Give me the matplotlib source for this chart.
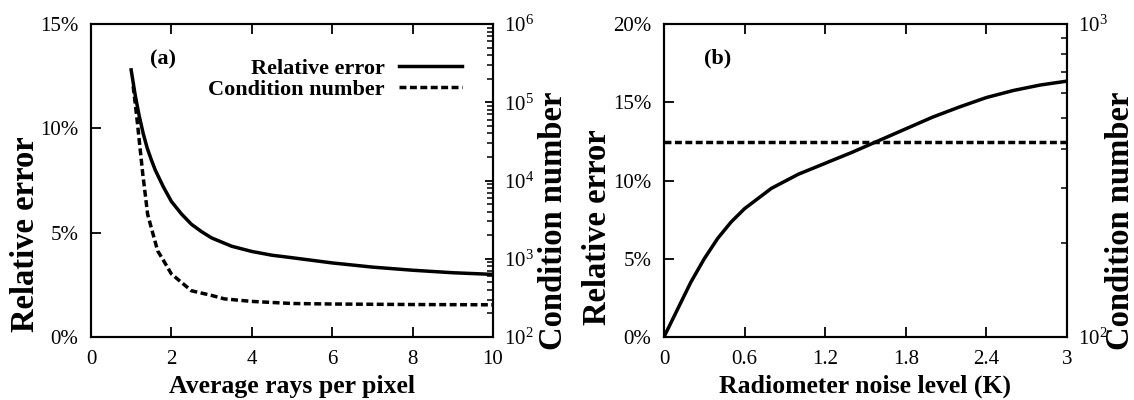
import numpy as np
import matplotlib.pyplot as plt
from matplotlib.ticker import FuncFormatter, NullFormatter

# --- data ---
rays = [1.0, 1.1, 1.2, 1.3, 1.4, 1.5, 1.6, 1.8, 2.0, 2.25, 2.5, 2.75, 3.0,
        3.5, 4.0, 4.5, 5.0, 6.0, 7.0, 8.0, 9.0, 10.0]
rays_err = [12.8, 11.6, 10.6, 9.75, 9.05, 8.5, 8.0, 7.2, 6.5, 5.9, 5.4, 5.05,
            4.75, 4.35, 4.1, 3.92, 3.8, 3.55, 3.35, 3.2, 3.08, 3.0]

rays_c = [1.05, 1.1, 1.16, 1.2, 1.29, 1.35, 1.41, 1.5, 1.66, 1.8, 2.0, 2.25,
          2.5, 3.0, 3.32, 4.0, 5.0, 6.0, 7.0, 8.0, 10.0]
rays_cond = [1.6e5, 9.8e4, 5.2e4, 3.3e4, 1.2e4, 6.7e3, 3.7e3, 2.5e3, 1.26e3,
             960, 640, 500, 390, 340, 307, 285, 268, 264, 262, 260, 258]

noise = [0.0, 0.1, 0.2, 0.3, 0.4, 0.5, 0.6, 0.8, 1.0, 1.2, 1.4, 1.6, 1.8,
         2.0, 2.2, 2.4, 2.6, 2.8, 3.0]
noise_err = [0.0, 1.75, 3.5, 5.0, 6.3, 7.35, 8.2, 9.5, 10.4, 11.1, 11.8, 12.55,
             13.3, 14.05, 14.7, 15.3, 15.75, 16.1, 16.35]

noise_c = [0.0, 3.0]
noise_cond = [420, 420]

# --- style ---
plt.rcParams['font.family'] = ['Liberation Serif', 'DejaVu Serif']
plt.rcParams['mathtext.fontset'] = 'custom'
plt.rcParams['mathtext.rm'] = 'Liberation Serif'
plt.rcParams['axes.linewidth'] = 1.5

fig = plt.figure(figsize=(11.34, 4), dpi=100)
ax1 = fig.add_axes([0.0802, 0.1575, 0.3545, 0.7825])
ax2 = fig.add_axes([0.5855, 0.1575, 0.3554, 0.7825])

pct = FuncFormatter(lambda v, p: '%d%%' % v)
lw = 2.5
ylab = dict(fontsize=23.5, fontweight='bold', va='center', ha='center')
xlab = dict(fontsize=18.5, fontweight='bold', va='center', ha='center')


def setup(ax, xmax, xticks, ymax, yticks, cmin, cmax):
    ax.set_xlim(0, xmax)
    ax.set_ylim(0, ymax)
    ax.set_xticks(xticks)
    ax.set_yticks(yticks)
    ax.yaxis.set_major_formatter(pct)
    ax.tick_params(direction='in', length=7, width=1.3, labelsize=15, pad=9,
                   top=True, right=False)
    tw = ax.twinx()
    tw.set_yscale('log')
    tw.set_ylim(cmin, cmax)
    tw.yaxis.set_minor_formatter(NullFormatter())
    tw.tick_params(which='major', direction='in', length=6, width=1.3,
                   labelsize=15, pad=8)
    tw.tick_params(which='minor', direction='in', length=4, width=1.1)
    return tw


# --- panel (a) ---
tw1 = setup(ax1, 10, [0, 2, 4, 6, 8, 10], 15, [0, 5, 10, 15], 1e2, 1e6)
l1, = ax1.plot(rays, rays_err, 'k-', lw=lw, label='Relative error')
l2, = tw1.plot(rays_c, rays_cond, 'k--', lw=lw, dashes=(2, 1),
               label='Condition number')
ax1.text(1.8, 13.3, '(a)', fontsize=16, fontweight='bold',
         ha='center', va='center')
ax1.legend([l1, l2], ['Relative error', 'Condition number'],
           loc='upper right', bbox_to_anchor=(0.922, 0.89), frameon=False,
           markerfirst=False, handlelength=2.8, handletextpad=0.65,
           labelspacing=0.0, borderpad=0, borderaxespad=0,
           prop={'weight': 'bold', 'size': 16})
ax1.set_xlabel('Average rays per pixel', **xlab)
ax1.set_ylabel('Relative error', **ylab)
tw1.set_ylabel('Condition number', **ylab)
ax1.xaxis.set_label_coords(0.5, -0.157)
ax1.yaxis.set_label_coords(-0.162, 0.33)
tw1.yaxis.set_label_coords(1.15, 0.37)

# --- panel (b) ---
tw2 = setup(ax2, 3, [0, 0.6, 1.2, 1.8, 2.4, 3], 20, [0, 5, 10, 15, 20],
            1e2, 1e3)
ax2.xaxis.set_major_formatter(FuncFormatter(lambda v, p: '%g' % v))
ax2.plot(noise, noise_err, 'k-', lw=lw)
tw2.plot(noise_c, noise_cond, 'k--', lw=lw, dashes=(2, 1))
ax2.text(0.4, 17.8, '(b)', fontsize=16, fontweight='bold',
         ha='center', va='center')
ax2.set_xlabel('Radiometer noise level (K)', **xlab)
ax2.set_ylabel('Relative error', **ylab)
tw2.set_ylabel('Condition number', **ylab)
ax2.xaxis.set_label_coords(0.5, -0.157)
ax2.yaxis.set_label_coords(-0.166, 0.35)
tw2.yaxis.set_label_coords(1.133, 0.37)

plt.savefig('out.png', dpi=100)
